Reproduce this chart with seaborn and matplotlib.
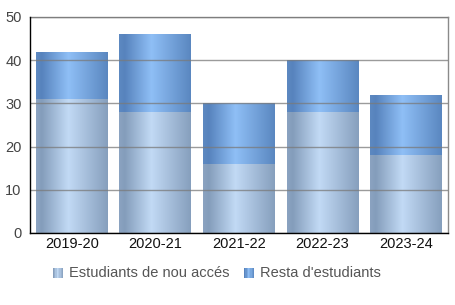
import numpy as np
import pandas as pd
import matplotlib
matplotlib.use("Agg")
import matplotlib.pyplot as plt
import seaborn as sns
from matplotlib.colors import LinearSegmentedColormap
from matplotlib.patches import Rectangle
from matplotlib.legend_handler import HandlerBase

years = ["2019-20", "2020-21", "2021-22", "2022-23", "2023-24"]
new_students = [31, 28, 16, 28, 18]
rest_students = [11, 18, 14, 12, 14]
series_names = ["Estudiants de nou accés", "Resta d'estudiants"]
yticks = [0, 10, 20, 30, 40, 50]

totals = [a + b for a, b in zip(new_students, rest_students)]
df = pd.DataFrame({"year": years, "new": new_students, "total": totals})

sns.set_theme(style="white")
plt.rcParams["font.family"] = ["Liberation Sans", "DejaVu Sans"]

cmap_new = LinearSegmentedColormap.from_list(
    "new", [(0, "#8ba3c1"), (0.08, "#849dbb"), (0.45, "#c2daf5"), (1, "#869fbd")])
cmap_rest = LinearSegmentedColormap.from_list(
    "rest", [(0, "#5d89c1"), (0.08, "#5783bd"), (0.45, "#8fbff6"), (1, "#5a87c0")])

fig = plt.figure(figsize=(4.56, 3.05), dpi=100)
ax = fig.add_axes([30 / 456, 1 - 233 / 305, 418 / 456, 216 / 305])

sns.barplot(data=df, x="year", y="total", color="#6f9cd6", width=0.86,
            ax=ax, saturation=1)
n_rest = len(ax.patches)
sns.barplot(data=df, x="year", y="new", color="#a9c3e2", width=0.86,
            ax=ax, saturation=1)

grad = np.linspace(0, 1, 256).reshape(1, -1)
for i, p in enumerate(ax.patches):
    cmap = cmap_rest if i < n_rest else cmap_new
    x0, y0 = p.get_x(), p.get_y()
    w, h = p.get_width(), p.get_height()
    im = ax.imshow(grad, cmap=cmap, aspect="auto",
                   extent=(x0, x0 + w, y0, y0 + h), zorder=p.get_zorder() + 0.1,
                   interpolation="bicubic")
    im.set_clip_path(p)
    p.set_edgecolor("none")

ax.set_xlim(-0.5, len(years) - 0.5)
ax.set_ylim(0, 50)
ax.set_yticks(yticks)
ax.set_axisbelow(False)
ax.grid(axis="y", color="#7a7a7a", alpha=0.75, lw=1)
ax.grid(axis="x", visible=False)
ax.set_xlabel("")
ax.set_ylabel("")
ax.tick_params(axis="y", length=0, pad=6, labelsize=10.5, labelcolor="#444444")
ax.tick_params(axis="x", length=0, pad=3, labelsize=10.5, labelcolor="#111111")
for s in ["left", "bottom"]:
    ax.spines[s].set_color("black")
    ax.spines[s].set_linewidth(1)
    ax.spines[s].set_zorder(5)
for s in ["top", "right"]:
    ax.spines[s].set_color("#8a8a8a")
    ax.spines[s].set_linewidth(1)


class GradHandler(HandlerBase):
    def __init__(self, cmap):
        super().__init__()
        self.cmap = cmap

    def create_artists(self, legend, orig_handle, xdescent, ydescent,
                       width, height, fontsize, trans):
        arts = []
        n = 8
        size = min(width, height) * 1.0
        x0 = -xdescent + (width - size)
        y0 = -ydescent + (height - size) / 2 - 1
        for k in range(n):
            r = Rectangle((x0 + k * size / n, y0), size / n + 0.1, size,
                          facecolor=self.cmap((k + 0.5) / n), edgecolor="none",
                          transform=trans)
            arts.append(r)
        return arts


h_new = Rectangle((0, 0), 1, 1)
h_rest = Rectangle((0, 0), 1, 1)
leg = fig.legend([h_new, h_rest], series_names, loc="center",
                 bbox_to_anchor=(0.474, 1 - 273 / 305), ncol=2, frameon=False,
                 fontsize=10.5, handlelength=0.8, handletextpad=0.4,
                 columnspacing=0.9,
                 handler_map={h_new: GradHandler(cmap_new),
                              h_rest: GradHandler(cmap_rest)})
for t in leg.get_texts():
    t.set_color("#555555")

fig.savefig("out.png", dpi=100)
